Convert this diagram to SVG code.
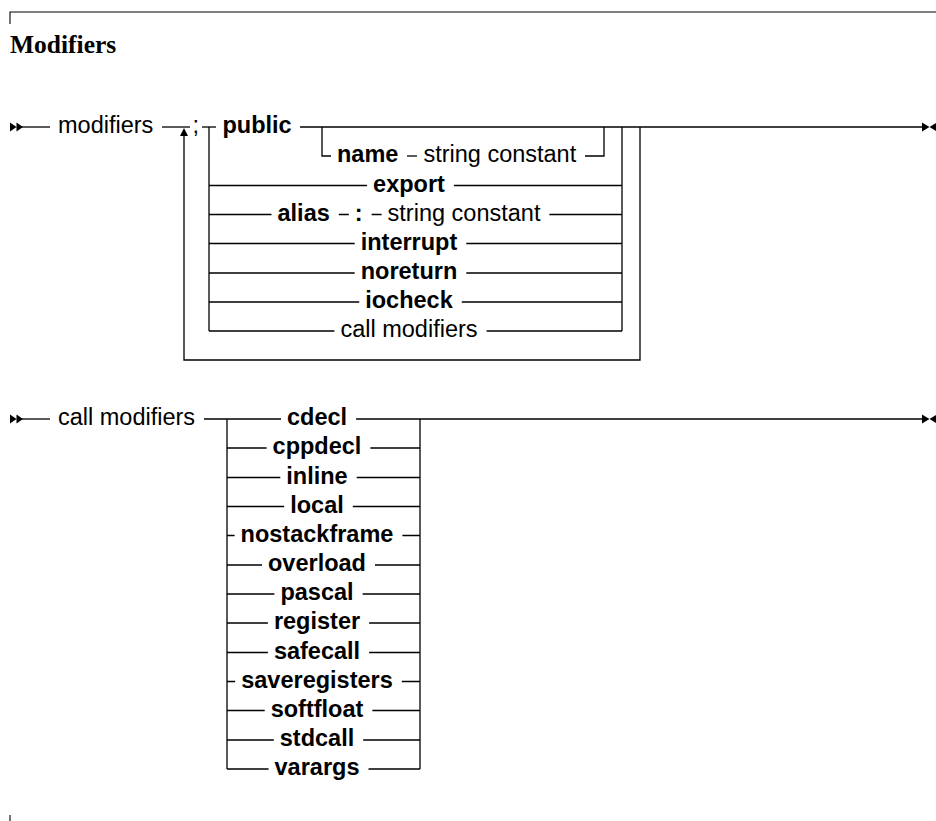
<svg xmlns="http://www.w3.org/2000/svg" width="936" height="821" viewBox="0 0 936 821">
<style>
.c{fill:none;stroke:#000;stroke-width:1.3}
.f{fill:none;stroke:#000;stroke-width:1.1}
.t{font-family:"Liberation Sans",Arial,sans-serif;font-size:23.5px;fill:#000}
.b{font-weight:bold}
.m{text-anchor:middle}
.title{font-family:"Liberation Serif","Times New Roman",serif;font-size:25.5px;font-weight:bold;fill:#000}
.ah{fill:#000}
</style>
<defs>
<path id="start" d="M0 -4.5 L6.5 0 L0 4.5 Z M6.5 -4.5 L13 0 L6.5 4.5 Z"/>
<path id="end" d="M0 -4.5 L7.5 0 L0 4.5 Z M15 -4.5 L7.5 0 L15 4.5 Z"/>
<path id="up" d="M0 0 L-4 8 L4 8 Z"/>
</defs>
<rect width="936" height="821" fill="#fff"/>
<g id="frame">
<path class="f" d="M10 24 V12 H936"/>
<path class="f" d="M10 815 V821"/>
<text class="title" x="10" y="53">Modifiers</text>
</g>
<g id="connectors">
<use href="#start" class="ah" x="10" y="127"/>
<path class="c" d="M20 127 H50"/>
<path class="c" d="M162 127 H190"/>
<path class="c" d="M184 135 V360 H640 V127"/>
<use href="#up" class="ah" x="184" y="128"/>
<path class="c" d="M202 127 H216"/>
<path class="c" d="M209 127 V331"/>
<path class="c" d="M300 127 H922"/>
<use href="#end" class="ah" x="922" y="127"/>
<path class="c" d="M322 127 V156 H331"/>
<path class="c" d="M407 156 H417"/>
<path class="c" d="M585 156 H604 V127"/>
<path class="c" d="M622 127 V331"/>
<path class="c" d="M209 185.5 H367.1 M453.9 185.5 H622"/>
<path class="c" d="M209 214.5 H271.5 M338.8 214.5 H348.8 M371.6 214.5 H381.6 M549.4 214.5 H622"/>
<path class="c" d="M209 243.5 H354.7 M466.3 243.5 H622"/>
<path class="c" d="M209 273 H354.7 M466.3 273 H622"/>
<path class="c" d="M209 302 H359.2 M461.8 302 H622"/>
<path class="c" d="M209 331 H334.4 M486.6 331 H622"/>
<use href="#start" class="ah" x="10" y="419"/>
<path class="c" d="M20 419 H50"/>
<path class="c" d="M204 419 H281"/>
<path class="c" d="M227 419 V769"/>
<path class="c" d="M356.1 419 H922"/>
<use href="#end" class="ah" x="922" y="419"/>
<path class="c" d="M420 419 V769"/>
<path class="c" d="M227 448 H266.6 M370.4 448 H420"/>
<path class="c" d="M227 477.5 H280.3 M356.7 477.5 H420"/>
<path class="c" d="M227 506.5 H284.2 M352.8 506.5 H420"/>
<path class="c" d="M227 535.5 H234.6 M402.4 535.5 H420"/>
<path class="c" d="M227 565 H262 M375 565 H420"/>
<path class="c" d="M227 594 H274.4 M362.6 594 H420"/>
<path class="c" d="M227 623 H267.9 M369.1 623 H420"/>
<path class="c" d="M227 652.5 H267.9 M369.1 652.5 H420"/>
<path class="c" d="M227 681.5 H235.2 M401.8 681.5 H420"/>
<path class="c" d="M227 710.5 H264.7 M372.4 710.5 H420"/>
<path class="c" d="M227 740 H273.8 M363.2 740 H420"/>
<path class="c" d="M227 769 H268.6 M368.5 769 H420"/>
</g>
<g id="n-modifiers"><text class="t" x="58" y="133">modifiers</text></g>
<g id="n-semicolon"><text class="t" x="192.5" y="133">;</text></g>
<g id="n-public"><text class="t b" x="222.5" y="133">public</text></g>
<g id="n-name"><text class="t b" x="337" y="162">name</text></g>
<g id="n-name-string"><text class="t" x="423.4" y="162">string constant</text></g>
<g id="n-export"><text class="t b m" x="409" y="191.5">export</text></g>
<g id="n-alias"><text class="t b" x="277.5" y="220.5">alias</text></g>
<g id="n-colon"><text class="t b" x="354.8" y="220.5">:</text></g>
<g id="n-alias-string"><text class="t" x="387.6" y="220.5">string constant</text></g>
<g id="n-interrupt"><text class="t b m" x="409" y="249.5">interrupt</text></g>
<g id="n-noreturn"><text class="t b m" x="409" y="279">noreturn</text></g>
<g id="n-iocheck"><text class="t b m" x="409" y="308">iocheck</text></g>
<g id="n-callmod-ref"><text class="t m" x="409" y="337">call modifiers</text></g>
<g id="n-callmod"><text class="t" x="58" y="425">call modifiers</text></g>
<g id="n-cdecl"><text class="t b m" x="317" y="425">cdecl</text></g>
<g id="n-cppdecl"><text class="t b m" x="317" y="454">cppdecl</text></g>
<g id="n-inline"><text class="t b m" x="317" y="483.5">inline</text></g>
<g id="n-local"><text class="t b m" x="317" y="512.5">local</text></g>
<g id="n-nostackframe"><text class="t b m" x="317" y="541.5">nostackframe</text></g>
<g id="n-overload"><text class="t b m" x="317" y="571">overload</text></g>
<g id="n-pascal"><text class="t b m" x="317" y="600">pascal</text></g>
<g id="n-register"><text class="t b m" x="317" y="629">register</text></g>
<g id="n-safecall"><text class="t b m" x="317" y="658.5">safecall</text></g>
<g id="n-saveregisters"><text class="t b m" x="317" y="687.5">saveregisters</text></g>
<g id="n-softfloat"><text class="t b m" x="317" y="716.5">softfloat</text></g>
<g id="n-stdcall"><text class="t b m" x="317" y="746">stdcall</text></g>
<g id="n-varargs"><text class="t b m" x="317" y="775">varargs</text></g>
</svg>
